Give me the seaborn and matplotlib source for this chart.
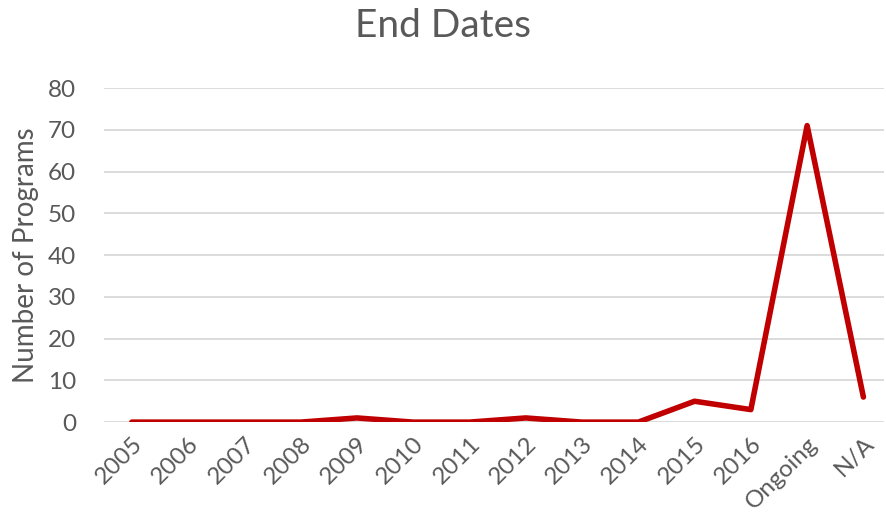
import matplotlib
matplotlib.use("Agg")
import matplotlib.pyplot as plt
import seaborn as sns
import pandas as pd

categories = ["2005", "2006", "2007", "2008", "2009", "2010", "2011", "2012",
              "2013", "2014", "2015", "2016", "Ongoing", "N/A"]
programs = [0, 0, 0, 0, 1, 0, 0, 1, 0, 0, 5, 3, 71, 6]
yticks = [0, 10, 20, 30, 40, 50, 60, 70, 80]

sns.set_theme(style="white")
plt.rcParams["font.family"] = ["Lato", "DejaVu Sans"]
gray = "#595959"

df = pd.DataFrame({"Category": categories, "Programs": programs})

fig = plt.figure(figsize=(8.86, 5.27), dpi=100)
ax = fig.add_axes([0.117, 0.199, 0.881, 0.634])
sns.lineplot(data=df, x="Category", y="Programs", ax=ax, color="#C00000",
             linewidth=4, sort=False, solid_capstyle="round", solid_joinstyle="round")

ax.set_xlim(-0.5, len(categories) - 0.63)
ax.set_ylim(0, 80)
ax.set_yticks(yticks)
ax.yaxis.grid(True, color="#D9D9D9", linewidth=1.3)
ax.set_axisbelow(True)
for s in ax.spines.values():
    s.set_visible(False)
ax.tick_params(axis="both", length=0, colors=gray, labelsize=17.5)
ax.tick_params(axis="y", pad=20)
ax.set_xticks(range(len(categories)))
ax.set_xticklabels(categories, rotation=45, ha="right", rotation_mode="anchor")
ax.tick_params(axis="x", pad=8)
ax.set_xlabel("")
ax.set_ylabel("Number of Programs", color=gray, fontsize=20, labelpad=6)
fig.suptitle("End Dates", x=0.5, y=0.985, fontsize=28, color=gray)

fig.savefig("out.png", dpi=100)
